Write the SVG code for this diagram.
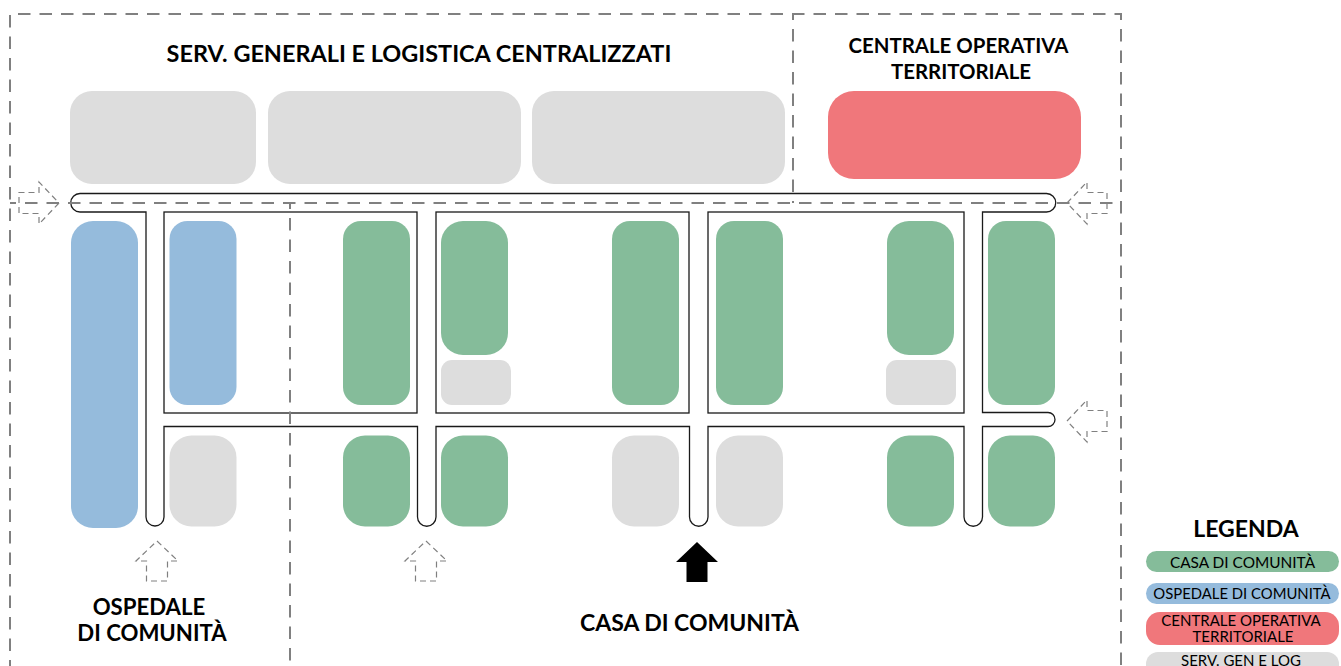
<svg xmlns="http://www.w3.org/2000/svg" width="1341" height="666" viewBox="0 0 1341 666">
<style>
text{font-family:"Lato","Open Sans",sans-serif;fill:#000;text-anchor:middle}
.t{font-weight:700;font-size:23px}
.m{font-weight:700;font-size:22.200px}
.h{font-weight:700;font-size:23.450px}
.s{font-weight:700;font-size:20.400px}
.l{font-size:15px}
.g{fill:#dddddd}.v{fill:#85bc9a}.b{fill:#95bbdc}.r{fill:#f0777b}
.road{fill:none;stroke:#1a1a1a;stroke-width:1.300}
.frame{fill:none;stroke:#808080;stroke-width:2;stroke-dasharray:12.500 9;stroke-dashoffset:6.500}
.arrow{fill:none;stroke:#808080;stroke-width:1.200;stroke-dasharray:6 4}
</style>
<defs>
<path id="up" d="M0,0L21,20H10.500V40H-10.500V20H-21Z"/>
</defs>
<g id="connectors">
<path class="road" d="M80,193.500H1046.500A9.250,9.250 0 0 1 1046.500,212H982.500V412.500H1048A7,7 0 0 1 1048,426.500H982.500V517A9,9 0 0 1 964,517V426.500H708V517A9,9 0 0 1 689.500,517V426.500H436V517A9,9 0 0 1 417.500,517V426.500H164V517A9,9 0 0 1 146,517V212H80A9.250,9.250 0 0 1 80,193.500Z"/>
<rect class="road" x="164" y="212" width="253" height="201"/>
<rect class="road" x="436" y="212" width="253" height="201"/>
<rect class="road" x="708" y="212" width="256" height="201"/>
</g>
<g id="frames">
<path class="frame" d="M10,666V14H1121V666"/>
<path class="frame" d="M10,203H1121"/>
<path class="frame" d="M793,14V203"/>
<path class="frame" d="M290,203V666"/>
</g>
<g id="arrows">
<use class="arrow" href="#up" transform="translate(59,203) rotate(90)"/>
<use class="arrow" href="#up" transform="translate(1067,203) rotate(-90)"/>
<use class="arrow" href="#up" transform="translate(1067,421) rotate(-90)"/>
<use class="arrow" href="#up" transform="translate(157,541)"/>
<use class="arrow" href="#up" transform="translate(426,541)"/>
<use href="#up" fill="#000" transform="translate(697,542)"/>
</g>
<g id="n-serv"><rect class="g" x="70" y="91" width="186" height="93" rx="22"/><rect class="g" x="268" y="91" width="253" height="93" rx="22"/><rect class="g" x="532" y="91" width="253" height="93" rx="22"/></g>
<g id="n-cot"><rect class="r" x="828" y="91" width="253" height="88" rx="26"/></g>
<g id="n-ospedale"><rect class="b" x="71" y="221" width="67" height="307" rx="22"/><rect class="b" x="169.500" y="221" width="67" height="184" rx="18"/></g>
<g id="n-casa">
<rect class="v" x="343" y="221" width="67" height="184" rx="18"/>
<rect class="v" x="441" y="221" width="67" height="134" rx="22"/>
<rect class="v" x="612" y="221" width="67" height="184" rx="18"/>
<rect class="v" x="716" y="221" width="67" height="184" rx="18"/>
<rect class="v" x="887" y="221" width="67" height="134" rx="22"/>
<rect class="v" x="988" y="221" width="67" height="184" rx="18"/>
<rect class="v" x="343" y="435.500" width="67" height="91" rx="22"/>
<rect class="v" x="441" y="435.500" width="67" height="91" rx="22"/>
<rect class="v" x="887" y="435.500" width="67" height="91" rx="22"/>
<rect class="v" x="988" y="435.500" width="67" height="91" rx="22"/>
</g>
<g id="n-servizi">
<rect class="g" x="441" y="360" width="70" height="45" rx="11"/>
<rect class="g" x="886" y="360" width="70" height="45" rx="11"/>
<rect class="g" x="169.500" y="435.500" width="67" height="91" rx="22"/>
<rect class="g" x="612" y="435.500" width="67" height="91" rx="22"/>
<rect class="g" x="716" y="435.500" width="67" height="91" rx="22"/>
</g>
<g id="labels">
<text class="h" x="419" y="62">SERV. GENERALI E LOGISTICA CENTRALIZZATI</text>
<text class="s" x="958.500" y="52.500">CENTRALE OPERATIVA</text>
<text class="s" x="961" y="79">TERRITORIALE</text>
<text class="m" x="149" y="615">OSPEDALE</text>
<text class="m" x="152" y="641">DI COMUNITÀ</text>
<text class="t" x="689.500" y="631">CASA DI COMUNITÀ</text>
</g>
<g id="legend">
<text class="t" x="1246" y="537">LEGENDA</text>
<g id="leg-casa"><rect class="v" x="1146" y="551" width="193" height="21" rx="10.500"/><text class="l" x="1242.500" y="567.500" style="font-size:15.400px">CASA DI COMUNITÀ</text></g>
<g id="leg-osp"><rect class="b" x="1146" y="583" width="193" height="21" rx="10.500"/><text class="l" x="1242" y="599" style="font-size:14.850px">OSPEDALE DI COMUNITÀ</text></g>
<g id="leg-cot"><rect class="r" x="1146" y="612" width="193" height="33" rx="14"/><text class="l" x="1241" y="626">CENTRALE OPERATIVA</text><text class="l" x="1243" y="641.500">TERRITORIALE</text></g>
<g id="leg-serv"><rect class="g" x="1146" y="652" width="193" height="30" rx="12"/><text class="l" x="1241" y="666">SERV. GEN E LOG</text></g>
</g>
</svg>
